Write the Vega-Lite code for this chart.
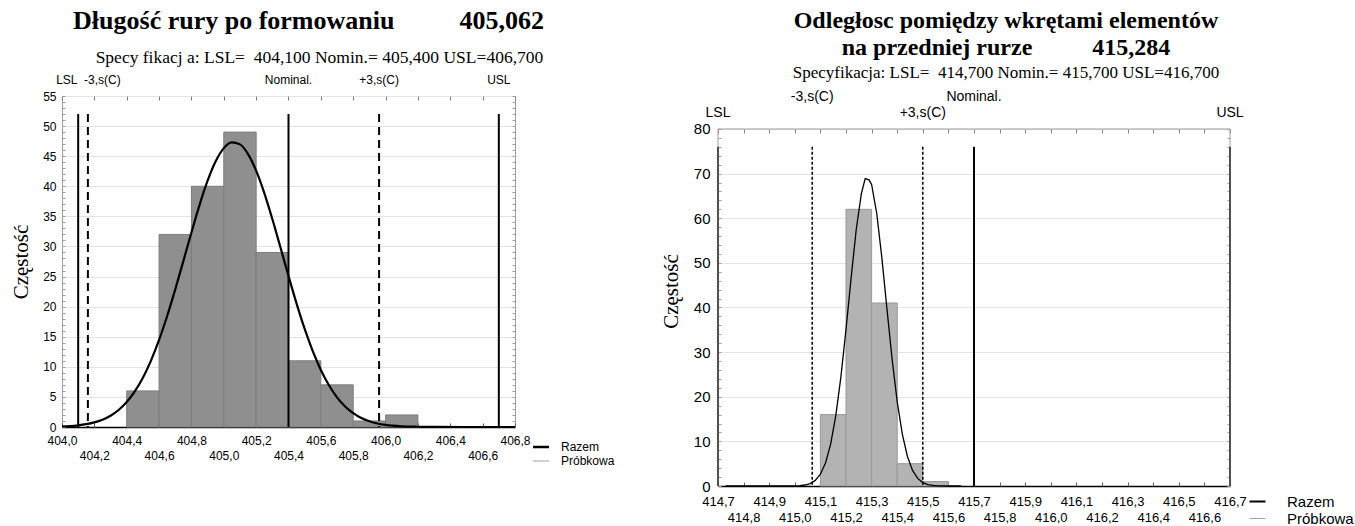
{
  "$schema": "https://vega.github.io/schema/vega-lite/v6.json",
  "background": "white",
  "padding": {"left": 10, "top": 7, "right": 2, "bottom": 0},
  "config": {
    "view": {"stroke": "#a0a0a0", "strokeWidth": 1},
    "axis": {"labelFont": "Liberation Sans", "titleFont": "Liberation Serif", "labelColor": "black", "titleColor": "black", "titleFontWeight": "normal"},
    "text": {"font": "Liberation Sans", "color": "black"}
  },
  "resolve": {"scale": {"color": "independent", "strokeDash": "independent", "x": "independent", "y": "independent"}, "legend": {"color": "independent"}},
  "spacing": 44,
  "datasets": {
    "bars1": [
      {"x0": 404.4, "x1": 404.6, "n": 6},
      {"x0": 404.6, "x1": 404.8, "n": 32},
      {"x0": 404.8, "x1": 405.0, "n": 40},
      {"x0": 405.0, "x1": 405.2, "n": 49},
      {"x0": 405.2, "x1": 405.4, "n": 29},
      {"x0": 405.4, "x1": 405.6, "n": 11},
      {"x0": 405.6, "x1": 405.8, "n": 7},
      {"x0": 405.8, "x1": 406.0, "n": 1},
      {"x0": 406.0, "x1": 406.2, "n": 2}
    ],
    "curve1": [
      {"x": 404.0, "y": 0.09, "series": "Razem"},
      {"x": 404.05, "y": 0.16, "series": "Razem"},
      {"x": 404.1, "y": 0.28, "series": "Razem"},
      {"x": 404.15, "y": 0.47, "series": "Razem"},
      {"x": 404.2, "y": 0.76, "series": "Razem"},
      {"x": 404.25, "y": 1.21, "series": "Razem"},
      {"x": 404.3, "y": 1.88, "series": "Razem"},
      {"x": 404.35, "y": 2.83, "series": "Razem"},
      {"x": 404.4, "y": 4.15, "series": "Razem"},
      {"x": 404.45, "y": 5.91, "series": "Razem"},
      {"x": 404.5, "y": 8.18, "series": "Razem"},
      {"x": 404.55, "y": 11.03, "series": "Razem"},
      {"x": 404.6, "y": 14.46, "series": "Razem"},
      {"x": 404.65, "y": 18.44, "series": "Razem"},
      {"x": 404.7, "y": 22.86, "series": "Razem"},
      {"x": 404.75, "y": 27.57, "series": "Razem"},
      {"x": 404.8, "y": 32.33, "series": "Razem"},
      {"x": 404.85, "y": 36.88, "series": "Razem"},
      {"x": 404.9, "y": 40.92, "series": "Razem"},
      {"x": 404.95, "y": 44.15, "series": "Razem"},
      {"x": 405.0, "y": 46.34, "series": "Razem"},
      {"x": 405.05, "y": 47.3, "series": "Razem"},
      {"x": 405.1, "y": 46.96, "series": "Razem"},
      {"x": 405.15, "y": 45.35, "series": "Razem"},
      {"x": 405.2, "y": 42.59, "series": "Razem"},
      {"x": 405.25, "y": 38.9, "series": "Razem"},
      {"x": 405.3, "y": 34.56, "series": "Razem"},
      {"x": 405.35, "y": 29.86, "series": "Razem"},
      {"x": 405.4, "y": 25.1, "series": "Razem"},
      {"x": 405.45, "y": 20.51, "series": "Razem"},
      {"x": 405.5, "y": 16.3, "series": "Razem"},
      {"x": 405.55, "y": 12.61, "series": "Razem"},
      {"x": 405.6, "y": 9.48, "series": "Razem"},
      {"x": 405.65, "y": 6.94, "series": "Razem"},
      {"x": 405.7, "y": 4.93, "series": "Razem"},
      {"x": 405.75, "y": 3.41, "series": "Razem"},
      {"x": 405.8, "y": 2.3, "series": "Razem"},
      {"x": 405.85, "y": 1.5, "series": "Razem"},
      {"x": 405.9, "y": 0.96, "series": "Razem"},
      {"x": 405.95, "y": 0.59, "series": "Razem"},
      {"x": 406.0, "y": 0.36, "series": "Razem"},
      {"x": 406.1, "y": 0.12, "series": "Razem"},
      {"x": 406.2, "y": 0.04, "series": "Razem"},
      {"x": 406.3, "y": 0.01, "series": "Razem"},
      {"x": 406.5, "y": 0.0, "series": "Razem"},
      {"x": 406.8, "y": 0.0, "series": "Razem"}
    ],
    "spec1": [
      {"x": 404.1, "top": 52, "dash": "solid"},
      {"x": 404.16, "top": 52, "dash": "dashed"},
      {"x": 405.4, "top": 52, "dash": "solid"},
      {"x": 405.96, "top": 52, "dash": "dashed"},
      {"x": 406.7, "top": 52, "dash": "solid"}
    ],
    "labels1": [
      {"x": 404.03, "y": 57.7, "label": "LSL"},
      {"x": 404.25, "y": 57.7, "label": "-3,s(C)"},
      {"x": 405.4, "y": 57.7, "label": "Nominal."},
      {"x": 405.96, "y": 57.7, "label": "+3,s(C)"},
      {"x": 406.7, "y": 57.7, "label": "USL"}
    ],
    "bars2": [
      {"x0": 415.1, "x1": 415.2, "n": 16},
      {"x0": 415.2, "x1": 415.3, "n": 62},
      {"x0": 415.3, "x1": 415.4, "n": 41},
      {"x0": 415.4, "x1": 415.5, "n": 5},
      {"x0": 415.5, "x1": 415.6, "n": 1}
    ],
    "curve2": [
      {"x": 414.73, "y": 0.0, "series": "Razem"},
      {"x": 414.9, "y": 0.0, "series": "Razem"},
      {"x": 415.0, "y": 0.03, "series": "Razem"},
      {"x": 415.02, "y": 0.08, "series": "Razem"},
      {"x": 415.04, "y": 0.22, "series": "Razem"},
      {"x": 415.06, "y": 0.55, "series": "Razem"},
      {"x": 415.08, "y": 1.25, "series": "Razem"},
      {"x": 415.1, "y": 2.64, "series": "Razem"},
      {"x": 415.12, "y": 5.17, "series": "Razem"},
      {"x": 415.14, "y": 9.37, "series": "Razem"},
      {"x": 415.16, "y": 15.72, "series": "Razem"},
      {"x": 415.18, "y": 24.41, "series": "Razem"},
      {"x": 415.2, "y": 35.07, "series": "Razem"},
      {"x": 415.22, "y": 46.65, "series": "Razem"},
      {"x": 415.24, "y": 57.47, "series": "Razem"},
      {"x": 415.26, "y": 65.52, "series": "Razem"},
      {"x": 415.275, "y": 68.9, "series": "Razem"},
      {"x": 415.29, "y": 68.6, "series": "Razem"},
      {"x": 415.3, "y": 67.57, "series": "Razem"},
      {"x": 415.32, "y": 61.12, "series": "Razem"},
      {"x": 415.34, "y": 51.18, "series": "Razem"},
      {"x": 415.36, "y": 39.68, "series": "Razem"},
      {"x": 415.38, "y": 28.47, "series": "Razem"},
      {"x": 415.4, "y": 18.91, "series": "Razem"},
      {"x": 415.42, "y": 11.63, "series": "Razem"},
      {"x": 415.44, "y": 6.62, "series": "Razem"},
      {"x": 415.46, "y": 3.49, "series": "Razem"},
      {"x": 415.48, "y": 1.7, "series": "Razem"},
      {"x": 415.5, "y": 0.77, "series": "Razem"},
      {"x": 415.52, "y": 0.32, "series": "Razem"},
      {"x": 415.54, "y": 0.12, "series": "Razem"},
      {"x": 415.56, "y": 0.04, "series": "Razem"},
      {"x": 415.6, "y": 0.0, "series": "Razem"},
      {"x": 415.65, "y": 0.0, "series": "Razem"}
    ],
    "spec2": [
      {"x": 414.7, "top": 76, "dash": "solid"},
      {"x": 415.068, "top": 76, "dash": "dotted"},
      {"x": 415.7, "top": 76, "dash": "solid"},
      {"x": 415.5, "top": 76, "dash": "dotted"},
      {"x": 416.7, "top": 76, "dash": "solid"}
    ],
    "labels2": [
      {"x": 415.068, "y": 87.2, "label": "-3,s(C)"},
      {"x": 415.7, "y": 87.2, "label": "Nominal."},
      {"x": 414.7, "y": 83.6, "label": "LSL"},
      {"x": 415.5, "y": 83.6, "label": "+3,s(C)"},
      {"x": 416.7, "y": 83.6, "label": "USL"}
    ]
  },
  "hconcat": [
    {
      "width": 453,
      "height": 331,
      "title": {
        "text": "Długość rury po formowaniu\u00a0\u00a0\u00a0\u00a0\u00a0\u00a0\u00a0\u00a0\u00a0\u00a0405,062",
        "subtitle": "\u200b\u00a0\u00a0\u00a0\u00a0\u00a0Specy fikacj a: LSL=\u00a0\u00a0404,100 Nomin.= 405,400 USL=406,700",
        "frame": "group",
        "anchor": "middle",
        "dx": 20,
        "font": "Liberation Serif",
        "fontSize": 26,
        "fontWeight": "bold",
        "color": "black",
        "subtitleFont": "Liberation Serif",
        "subtitleFontSize": 17.5,
        "subtitleColor": "black",
        "subtitlePadding": 15,
        "offset": 7
      },
      "resolve": {"axis": {"x": "independent", "y": "independent"}},
      "layer": [
        {
          "data": {"name": "bars1"},
          "mark": {"type": "rect", "fill": "#8f8f8f", "stroke": "#7d7d7d", "strokeWidth": 1},
          "encoding": {
            "x": {"field": "x0", "type": "quantitative",
              "scale": {"domain": [404.0, 406.8], "nice": false, "zero": false},
              "axis": {"orient": "bottom", "values": [404.0, 404.4, 404.8, 405.2, 405.6, 406.0, 406.4, 406.8],
                "labelExpr": "replace(format(datum.value, '.1f'), '.', ',')",
                "labelFontSize": 12, "labelPadding": 8, "ticks": false, "labelOverlap": false, "labelFlush": false,
                "domainColor": "black", "domainWidth": 1.5, "grid": false, "title": null}},
            "x2": {"field": "x1"},
            "y": {"field": "n", "type": "quantitative",
              "scale": {"domain": [0, 55], "nice": false},
              "axis": {"orient": "left", "values": [0, 5, 10, 15, 20, 25, 30, 35, 40, 45, 50, 55], "labelFontSize": 12, "labelPadding": 6, "ticks": false,
                "domain": false, "grid": true, "gridColor": "#e4e4e4", "title": "Częstość", "titleFontSize": 21, "titlePadding": 11}}
          }
        },
        {
          "data": {"name": "curve1"},
          "mark": {"type": "line", "strokeWidth": 2.2, "interpolate": "monotone"},
          "encoding": {
            "x": {"field": "x", "type": "quantitative",
              "axis": {"orient": "bottom", "values": [404.2, 404.6, 405.0, 405.4, 405.8, 406.2, 406.6],
                "labelExpr": "replace(format(datum.value, '.1f'), '.', ',')",
                "labelFontSize": 12, "labelPadding": 23, "ticks": false, "labelOverlap": false, "labelFlush": false,
                "domain": false, "grid": false, "title": null}},
            "y": {"field": "y", "type": "quantitative", "axis": null},
            "color": {"field": "series", "type": "nominal",
              "scale": {"domain": ["Razem", "Próbkowa"], "range": ["#000000", "#a0a0a0"]},
              "legend": {"title": null, "orient": "none", "legendX": 473, "legendY": 345, "symbolType": "stroke", "symbolSize": 256, "symbolStrokeWidth": 2.5,
                "labelFont": "Liberation Sans", "labelFontSize": 12, "labelColor": "black", "rowPadding": 2, "labelOffset": 14,
                "encode": {"symbols": {"update": {"strokeWidth": {"signal": "datum.value == 'Razem' ? 2.5 : 1"}}}}}}
          }
        },
        {
          "data": {"name": "spec1"},
          "mark": {"type": "rule", "strokeWidth": 2, "color": "black"},
          "encoding": {
            "x": {"field": "x", "type": "quantitative",
              "axis": {"orient": "top", "offset": -4, "values": [404.0, 404.2, 404.4, 404.6, 404.8, 405.0, 405.2, 405.4, 405.6, 405.8, 406.0, 406.2, 406.4, 406.6, 406.8],
                "labels": false, "ticks": true, "tickSize": 4, "tickColor": "#808080", "domain": false, "grid": false, "title": null}},
            "y": {"field": "top", "type": "quantitative",
              "axis": {"orient": "left", "offset": -3, "values": [0, 1, 2, 3, 4, 5, 6, 7, 8, 9, 10, 11, 12, 13, 14, 15, 16, 17, 18, 19, 20, 21, 22, 23, 24, 25, 26, 27, 28, 29, 30, 31, 32, 33, 34, 35, 36, 37, 38, 39, 40, 41, 42, 43, 44, 45, 46, 47, 48, 49, 50, 51, 52, 53, 54, 55],
                "labels": false, "ticks": true, "tickSize": 3, "tickColor": "#a0a0a0", "domain": false, "grid": false, "title": null}},
            "y2": {"datum": 0},
            "strokeDash": {"field": "dash", "type": "nominal", "scale": {"domain": ["solid", "dashed"], "range": [[1, 0], [8, 5]]}, "legend": null}
          }
        },
        {
          "data": {"name": "labels1"},
          "mark": {"type": "text", "fontSize": 12, "baseline": "middle", "align": "center"},
          "encoding": {
            "x": {"field": "x", "type": "quantitative",
              "axis": {"orient": "bottom", "offset": -4, "values": [404.0, 404.2, 404.4, 404.6, 404.8, 405.0, 405.2, 405.4, 405.6, 405.8, 406.0, 406.2, 406.4, 406.6, 406.8],
                "labels": false, "ticks": true, "tickSize": 4, "tickColor": "#606060", "domain": false, "grid": false, "title": null}},
            "y": {"field": "y", "type": "quantitative",
              "axis": {"orient": "right", "offset": -3, "values": [0, 1, 2, 3, 4, 5, 6, 7, 8, 9, 10, 11, 12, 13, 14, 15, 16, 17, 18, 19, 20, 21, 22, 23, 24, 25, 26, 27, 28, 29, 30, 31, 32, 33, 34, 35, 36, 37, 38, 39, 40, 41, 42, 43, 44, 45, 46, 47, 48, 49, 50, 51, 52, 53, 54, 55],
                "labels": false, "ticks": true, "tickSize": 3, "tickColor": "#a0a0a0", "domain": false, "grid": false, "title": null}},
            "text": {"field": "label"}
          }
        }
      ]
    },
    {
      "width": 512,
      "height": 390,
      "view": {"stroke": null},
      "title": {
        "text": ["Odległosc pomiędzy wkrętami elementów", "na przedniej rurze\u00a0\u00a0\u00a0\u00a0\u00a0\u00a0\u00a0\u00a0\u00a0\u00a0415,284"],
        "subtitle": "Specyfikacja: LSL=\u00a0\u00a0414,700 Nomin.= 415,700 USL=416,700",
        "frame": "group",
        "anchor": "middle",
        "dx": 32,
        "font": "Liberation Serif",
        "fontSize": 24,
        "fontWeight": "bold",
        "lineHeight": 27,
        "color": "black",
        "subtitleFont": "Liberation Serif",
        "subtitleFontSize": 17,
        "subtitleColor": "black",
        "subtitlePadding": 5,
        "offset": 9
      },
      "resolve": {"axis": {"x": "independent", "y": "independent"}},
      "layer": [
        {
          "data": {"name": "bars2"},
          "mark": {"type": "rect", "fill": "#b3b3b3", "stroke": "#999999", "strokeWidth": 1},
          "encoding": {
            "x": {"field": "x0", "type": "quantitative",
              "scale": {"domain": [414.7, 416.7], "nice": false, "zero": false},
              "axis": {"orient": "bottom", "values": [414.7, 414.9, 415.1, 415.3, 415.5, 415.7, 415.9, 416.1, 416.3, 416.5, 416.7],
                "labelExpr": "replace(format(datum.value, '.1f'), '.', ',')",
                "labelFontSize": 13, "labelPadding": 9, "ticks": false, "labelOverlap": false, "labelFlush": false,
                "domainColor": "black", "domainWidth": 1.5, "grid": false, "title": null}},
            "x2": {"field": "x1"},
            "y": {"field": "n", "type": "quantitative",
              "scale": {"domain": [0, 87.39], "nice": false},
              "axis": {"orient": "left", "values": [0, 10, 20, 30, 40, 50, 60, 70, 80], "labelFontSize": 15, "labelPadding": 8, "ticks": false,
                "domain": false, "grid": true, "gridColor": "#e4e4e4", "title": "Częstość", "titleFontSize": 21, "titlePadding": 12}}
          }
        },
        {
          "data": {"name": "curve2"},
          "mark": {"type": "line", "strokeWidth": 1.3},
          "encoding": {
            "x": {"field": "x", "type": "quantitative",
              "axis": {"orient": "bottom", "values": [414.8, 415.0, 415.2, 415.4, 415.6, 415.8, 416.0, 416.2, 416.4, 416.6],
                "labelExpr": "replace(format(datum.value, '.1f'), '.', ',')",
                "labelFontSize": 13, "labelPadding": 25, "ticks": false, "labelOverlap": false, "labelFlush": false,
                "domain": false, "grid": false, "title": null}},
            "y": {"field": "y", "type": "quantitative", "axis": null},
            "color": {"field": "series", "type": "nominal",
              "scale": {"domain": ["Razem", "Próbkowa"], "range": ["#000000", "#a0a0a0"]},
              "legend": {"title": null, "orient": "none", "legendX": 532, "legendY": 398, "symbolType": "stroke", "symbolSize": 256, "symbolStrokeWidth": 2,
                "labelFont": "Liberation Sans", "labelFontSize": 15, "labelColor": "black", "rowPadding": 1, "labelOffset": 22,
                "encode": {"symbols": {"update": {"strokeWidth": {"signal": "datum.value == 'Razem' ? 2 : 1"}}}}}}
          }
        },
        {
          "data": {"name": "spec2"},
          "transform": [{"filter": "datum.dash == 'solid'"}],
          "mark": {"type": "rule", "strokeWidth": 2, "color": "black"},
          "encoding": {
            "x": {"field": "x", "type": "quantitative",
              "axis": {"orient": "top", "offset": -37, "values": [414.7, 414.8, 414.9, 415.0, 415.1, 415.2, 415.3, 415.4, 415.5, 415.6, 415.7, 415.8, 415.9, 416.0, 416.1, 416.2, 416.3, 416.4, 416.5, 416.6, 416.7],
                "labels": false, "ticks": true, "tickSize": 4, "tickColor": "#808080", "domain": false, "grid": false, "title": null}},
            "y": {"field": "top", "type": "quantitative",
              "axis": {"orient": "left", "offset": -3, "values": [0, 2, 4, 6, 8, 10, 12, 14, 16, 18, 20, 22, 24, 26, 28, 30, 32, 34, 36, 38, 40, 42, 44, 46, 48, 50, 52, 54, 56, 58, 60, 62, 64, 66, 68, 70, 72, 74, 76, 78, 80],
                "labels": false, "ticks": true, "tickSize": 3, "tickColor": "#a0a0a0", "domain": false, "grid": false, "title": null}},
            "y2": {"datum": 0}
          }
        },
        {
          "data": {"name": "spec2"},
          "transform": [{"filter": "datum.dash == 'dotted'"}],
          "mark": {"type": "rule", "strokeWidth": 1.5, "color": "black", "strokeDash": [3, 2]},
          "encoding": {
            "x": {"field": "x", "type": "quantitative",
              "axis": {"orient": "bottom", "offset": -4, "values": [414.7, 414.8, 414.9, 415.0, 415.1, 415.2, 415.3, 415.4, 415.5, 415.6, 415.7, 415.8, 415.9, 416.0, 416.1, 416.2, 416.3, 416.4, 416.5, 416.6, 416.7],
                "labels": false, "ticks": true, "tickSize": 4, "tickColor": "#606060", "domain": false, "grid": false, "title": null}},
            "y": {"field": "top", "type": "quantitative",
              "axis": {"orient": "right", "offset": -3, "values": [0, 2, 4, 6, 8, 10, 12, 14, 16, 18, 20, 22, 24, 26, 28, 30, 32, 34, 36, 38, 40, 42, 44, 46, 48, 50, 52, 54, 56, 58, 60, 62, 64, 66, 68, 70, 72, 74, 76, 78, 80],
                "labels": false, "ticks": true, "tickSize": 3, "tickColor": "#a0a0a0", "domain": false, "grid": false, "title": null}},
            "y2": {"datum": 0}
          }
        },
        {
          "data": {"name": "labels2"},
          "mark": {"type": "text", "fontSize": 14, "baseline": "middle", "align": "center"},
          "encoding": {
            "x": {"field": "x", "type": "quantitative", "axis": null},
            "y": {"field": "y", "type": "quantitative", "axis": null},
            "text": {"field": "label"}
          }
        },
        {
          "data": {"values": [{}]},
          "mark": {"type": "rule", "strokeWidth": 1, "color": "#a0a0a0"},
          "encoding": {
            "x": {"datum": 414.7, "type": "quantitative", "axis": null},
            "x2": {"datum": 416.7},
            "y": {"datum": 80, "type": "quantitative", "axis": null}
          }
        },
        {
          "data": {"values": [{}]},
          "mark": {"type": "rule", "strokeWidth": 1, "color": "#a0a0a0"},
          "encoding": {
            "x": {"datum": 416.7, "type": "quantitative", "axis": null},
            "y": {"datum": 0, "type": "quantitative", "axis": null},
            "y2": {"datum": 80}
          }
        },
        {
          "data": {"values": [{}]},
          "mark": {"type": "rule", "strokeWidth": 1, "color": "#a0a0a0"},
          "encoding": {
            "x": {"datum": 414.7, "type": "quantitative", "axis": null},
            "y": {"datum": 0, "type": "quantitative", "axis": null},
            "y2": {"datum": 80}
          }
        }
      ]
    }
  ]
}
